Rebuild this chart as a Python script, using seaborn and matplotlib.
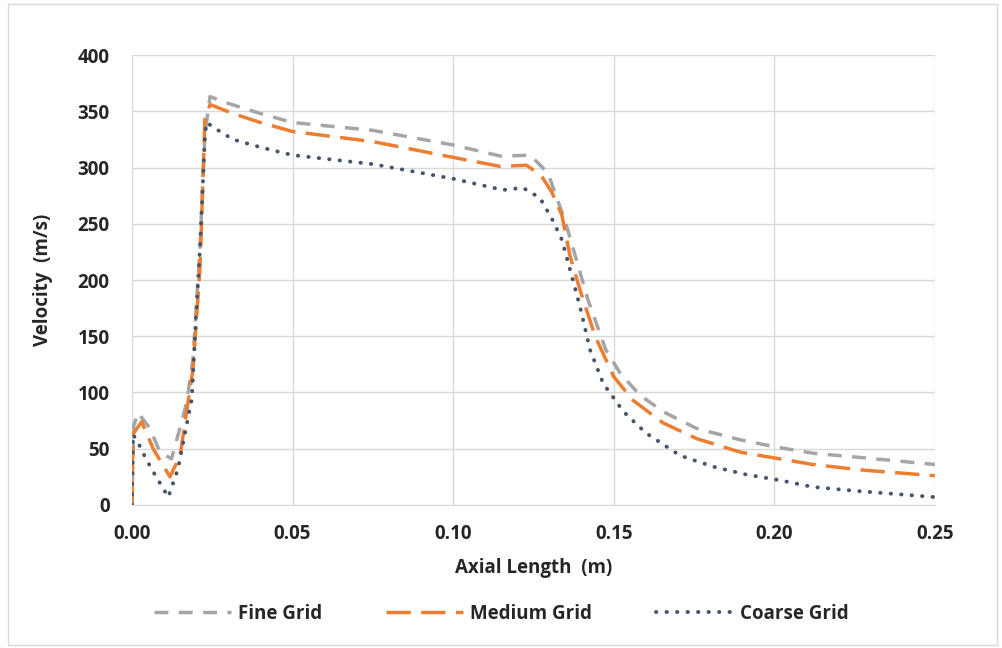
import matplotlib
matplotlib.use('Agg')
import matplotlib.pyplot as plt
import seaborn as sns
from matplotlib.patches import Rectangle

# valores
fine_x = [0, 0.0005, 0.0019, 0.0056, 0.0087, 0.0123, 0.015, 0.017, 0.019, 0.0212, 0.0227, 0.0243,
          0.030, 0.04, 0.05, 0.075, 0.10, 0.115, 0.124, 0.1295, 0.135, 0.142, 0.1475, 0.152, 0.158,
          0.1653, 0.1758, 0.1893, 0.1996, 0.212, 0.2276, 0.25]
fine_y = [0, 70, 82, 68, 47, 41, 69, 91, 130, 230, 330, 363, 357, 348, 340, 333, 320, 310, 311, 295,
          251, 182, 138, 117, 98, 83, 68, 58, 52, 46, 42, 36]

medium_x = [0, 0.0003, 0.003, 0.0066, 0.0118, 0.015, 0.017, 0.019, 0.0212, 0.0227, 0.0243, 0.0314,
            0.04, 0.05, 0.075, 0.10, 0.1146, 0.1229, 0.1276, 0.1307, 0.1338, 0.1364, 0.1395, 0.1442,
            0.150, 0.156, 0.1653, 0.1758, 0.1893, 0.1996, 0.212, 0.2276, 0.25]
medium_y = [0, 63, 74, 50, 25, 44, 83, 121, 212, 343, 356, 348, 340, 332, 323, 309, 301, 302, 292,
            278, 258, 221, 191, 150, 114, 93, 73, 59, 47, 42, 36, 31, 26]

coarse_x = [0, 0.0003, 0.0025, 0.004, 0.0061, 0.0113, 0.0143, 0.0186, 0.020, 0.0212, 0.0227, 0.0232,
            0.0263, 0.0314, 0.04, 0.05, 0.075, 0.10, 0.1155, 0.1217, 0.127, 0.131, 0.1338, 0.1364,
            0.1395, 0.1426, 0.1467, 0.151, 0.153, 0.160, 0.1706, 0.181, 0.1913, 0.2017, 0.212,
            0.2276, 0.25]
coarse_y = [0, 63, 52, 43, 32, 7, 32, 94, 171, 230, 328, 340, 334, 325, 318, 311, 303, 290, 280, 282,
            273, 253, 236, 209, 176, 138, 108, 91, 83, 64, 44, 34, 27, 22, 16, 12, 7]

x_ticks = [0.00, 0.05, 0.10, 0.15, 0.20, 0.25]
y_ticks = [0, 50, 100, 150, 200, 250, 300, 350, 400]

sns.set_style("white")
plt.rcParams['font.family'] = ['Open Sans', 'DejaVu Sans']

fig = plt.figure(figsize=(10.03, 6.48), dpi=100)
ax = fig.add_axes([0.1316, 0.2207, 0.8006, 0.6944])

sns.lineplot(x=fine_x, y=fine_y, ax=ax, sort=False, color='#A5A5A5', linewidth=2.5,
             label='Fine Grid')
ax.lines[-1].set_dashes([4, 3])
sns.lineplot(x=medium_x, y=medium_y, ax=ax, sort=False, color='#ED7D31', linewidth=2.5,
             label='Medium Grid')
ax.lines[-1].set_dashes([7, 3])
sns.lineplot(x=coarse_x, y=coarse_y, ax=ax, sort=False, color='#44546A', linewidth=2.8,
             label='Coarse Grid')
ax.lines[-1].set_dashes([0.1, 2.6])
ax.lines[-1].set_dash_capstyle('round')

ax.set_xlim(0, 0.25)
ax.set_ylim(0, 400)
ax.set_xticks(x_ticks)
ax.set_xticklabels([f'{v:.2f}' for v in x_ticks])
ax.set_yticks(y_ticks)
ax.grid(True, color='#D9D9D9', linewidth=1)
ax.tick_params(axis='x', length=0, labelsize=13.5, pad=14)
ax.tick_params(axis='y', length=0, labelsize=13.5, pad=16)
for lab in ax.get_xticklabels() + ax.get_yticklabels():
    lab.set_fontweight('bold')

for s in ['top', 'right', 'left']:
    ax.spines[s].set_visible(False)
ax.spines['bottom'].set_color('#D9D9D9')

ax.set_xlabel('Axial Length  (m)', fontsize=13.5, fontweight='bold')
ax.set_ylabel('Velocity  (m/s)', fontsize=13.5, fontweight='bold')
ax.xaxis.set_label_coords(0.5, -0.118)
ax.yaxis.set_label_coords(-0.098, 0.5)

# legenda centrada na figura, nao no eixo
ax.legend(loc='center', bbox_to_anchor=(0.5, 0.053), bbox_transform=fig.transFigure,
          ncol=3, frameon=False, prop={'weight': 'bold', 'size': 13.5},
          handlelength=4.1, columnspacing=3.4, handletextpad=0.4)

fig.patches.append(Rectangle((0.008, 0.004), 0.986, 0.99, transform=fig.transFigure,
                             fill=False, edgecolor='#D9D9D9', linewidth=1))

plt.savefig('out.png', dpi=100)
